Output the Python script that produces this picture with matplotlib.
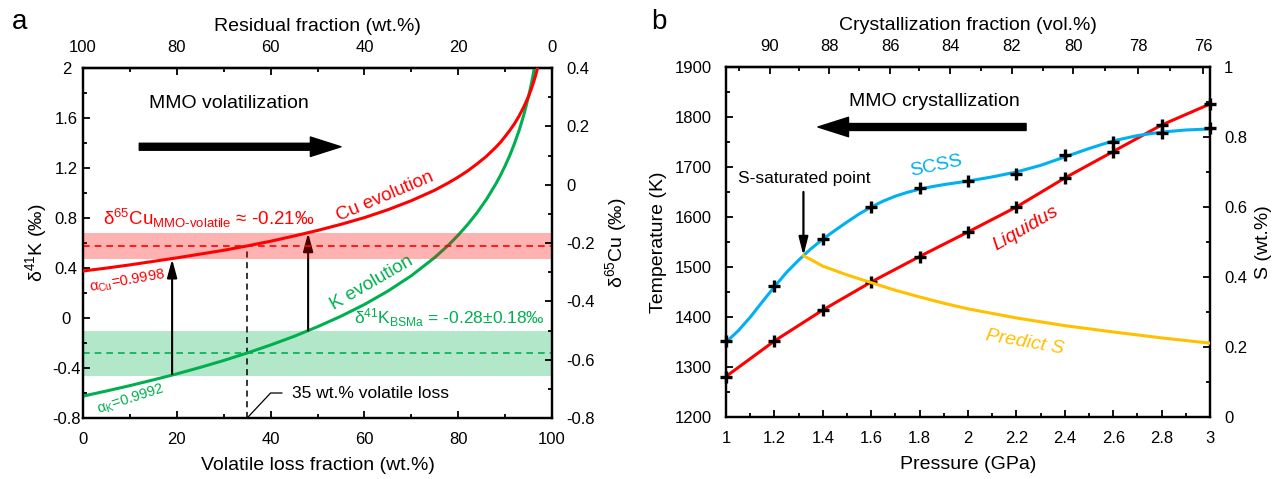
import matplotlib
matplotlib.use("Agg")
import matplotlib.pyplot as plt
from matplotlib.ticker import MultipleLocator, FixedLocator, FuncFormatter

plt.rcParams['font.family'] = ['Liberation Sans', 'DejaVu Sans']
plt.rcParams['mathtext.fontset'] = 'custom'
plt.rcParams['mathtext.rm'] = 'Liberation Sans'
plt.rcParams['mathtext.it'] = 'Liberation Sans:italic'
plt.rcParams['mathtext.default'] = 'regular'
plt.rcParams['axes.unicode_minus'] = False

RED = '#FF0000'
GREEN = '#00B050'
BLUE = '#00B0F0'
ORANGE = '#FFC000'

# ---------- panel a data ----------
loss = [0, 5, 10, 15, 20, 25, 30, 35, 40, 45, 50, 55, 60, 65, 70, 75, 78, 80, 82, 84, 86, 88, 89, 90,
        91, 92, 93, 94, 95, 95.5, 96, 96.5, 97]
k_evol = [-0.625, -0.584, -0.541, -0.495, -0.447, -0.395, -0.340, -0.280, -0.216, -0.147, -0.070, 0.014,
          0.108, 0.215, 0.338, 0.484, 0.586, 0.663, 0.747, 0.841, 0.948, 1.071, 1.141, 1.217,
          1.301, 1.396, 1.502, 1.626, 1.772, 1.856, 1.950, 2.057, 2.180]
cu_evol = [-0.296, -0.286, -0.275, -0.263, -0.251, -0.238, -0.225, -0.210, -0.194, -0.176, -0.157, -0.136,
           -0.113, -0.086, -0.055, -0.019, 0.007, 0.026, 0.047, 0.071, 0.097, 0.128, 0.145, 0.165,
           0.186, 0.209, 0.236, 0.267, 0.303, 0.324, 0.348, 0.374, 0.405]
k_bsma, k_err = -0.28, 0.18
cu_mmo, cu_err = -0.21, 0.045
loss_mark = 35
arrow_x = [19, 48]
arrow_from = [-0.45, -0.10]
arrow_to = [0.47, 0.68]

# ---------- panel b data ----------
p_mark = [1.0, 1.2, 1.4, 1.6, 1.8, 2.0, 2.2, 2.4, 2.6, 2.8, 3.0]
liquidus = [1281, 1352, 1414, 1470, 1521, 1570, 1620, 1678, 1731, 1784, 1826]
scss_mark = [0.216, 0.374, 0.508, 0.600, 0.653, 0.675, 0.694, 0.749, 0.787, 0.811, 0.826]
p_scss = [1.0, 1.05, 1.1, 1.15, 1.2, 1.25, 1.3, 1.32, 1.35, 1.4, 1.45, 1.5, 1.55, 1.6, 1.65, 1.7, 1.75,
          1.8, 1.85, 1.9, 2.0, 2.1, 2.2, 2.3, 2.4, 2.5, 2.6, 2.7, 2.8, 2.9, 3.0]
scss = [0.214, 0.246, 0.285, 0.329, 0.372, 0.413, 0.448, 0.461, 0.480, 0.508, 0.533, 0.557, 0.580, 0.600,
        0.617, 0.631, 0.642, 0.651, 0.658, 0.664, 0.674, 0.686, 0.700, 0.719, 0.743, 0.767, 0.789, 0.804,
        0.814, 0.820, 0.823]
p_pred = [1.32, 1.35, 1.4, 1.5, 1.6, 1.7, 1.8, 1.9, 2.0, 2.2, 2.4, 2.6, 2.8, 3.0]
pred_s = [0.461, 0.450, 0.431, 0.406, 0.384, 0.362, 0.343, 0.325, 0.309, 0.283, 0.261, 0.243, 0.226, 0.211]
cryst_vals = [91, 90, 89, 88, 87, 86, 85, 84, 83, 82, 81, 80, 79, 78, 77, 76]
cryst_pos = [1.055, 1.182, 1.303, 1.427, 1.551, 1.678, 1.799, 1.926, 2.053, 2.181, 2.309, 2.435,
             2.566, 2.704, 2.835, 2.973]
sat_p, sat_s = 1.32, 0.461


def fmt(v, pos=None):
    v = round(v, 3)
    if v == 0:
        v = 0.0
    return f'{v:g}'


def style(ax):
    for s in ax.spines.values():
        s.set_linewidth(1.6)
    ax.tick_params(which='both', direction='in', labelsize=12, width=1.3)
    ax.tick_params(which='major', length=5)
    ax.tick_params(which='minor', length=3)


fig = plt.figure(figsize=(12.85, 4.79), dpi=100)
W, H = 1285, 479

# ================= panel a =================
ax = fig.add_axes([83 / W, 1 - 418 / H, 469 / W, 350 / H])
ax2 = ax.twinx()
ax.set_xlim(0, 100)
ax.set_ylim(-0.8, 2)
ax2.set_ylim(-0.8, 0.4)


def cu_to_k(v):
    return (v + 0.8) * 2.8 / 1.2 - 0.8


ax.axhspan(k_bsma - k_err, k_bsma + k_err, color=GREEN, alpha=0.3, lw=0, zorder=1)
ax.axhline(k_bsma, color=GREEN, lw=1.2, ls=(0, (4, 3)), zorder=2)
ax.plot(loss, k_evol, color=GREEN, lw=2.2, zorder=3, solid_joinstyle='round')
ax.plot([loss_mark, loss_mark], [-0.8, cu_to_k(cu_mmo)], color='k', lw=1.1, ls=(0, (4, 3)), zorder=2)
for x, y0, y1 in zip(arrow_x, arrow_from, arrow_to):
    ax.annotate('', xy=(x, y1), xytext=(x, y0),
                arrowprops=dict(arrowstyle='-|>,head_length=1.1,head_width=0.3', color='k', lw=1.5,
                                shrinkA=0, shrinkB=0), zorder=4)

ax2.axhspan(cu_mmo - cu_err, cu_mmo + cu_err, color=RED, alpha=0.3, lw=0, zorder=1)
ax2.axhline(cu_mmo, color=RED, lw=1.2, ls=(0, (4, 3)), zorder=2)
ax2.plot(loss, cu_evol, color=RED, lw=2.2, zorder=3, solid_joinstyle='round')

# volatilization arrow
ax.annotate('', xy=(55, 1.37), xytext=(12, 1.37),
            arrowprops=dict(width=5, headwidth=14, headlength=22, color='k', shrink=0))
ax.text(14, 1.72, 'MMO volatilization', fontsize=14, va='center')
ax.text(64.5, 0.97, 'Cu evolution', color=RED, fontsize=13.5, rotation=23,
        ha='center', va='center', rotation_mode='anchor')
ax.text(4.3, 0.80, r'δ$^{65}$Cu$_{\text{MMO-volatile}}$ ≈ -0.21‰', color=RED, fontsize=13.5, va='center')
ax.text(9.5, 0.29, r'α$_{Cu}$=0.9998', color=RED, fontsize=10.5, rotation=10,
        ha='center', va='center', rotation_mode='anchor')
ax.text(61.5, 0.28, 'K evolution', color=GREEN, fontsize=13.5, rotation=30,
        ha='center', va='center', rotation_mode='anchor')
ax.text(98.5, 0.0, r'δ$^{41}$K$_{BSMa}$ = -0.28±0.18‰', color=GREEN, fontsize=12.5, ha='right', va='center')
ax.text(10.2, -0.65, r'α$_{K}$=0.9992', color=GREEN, fontsize=10.5, rotation=18,
        ha='center', va='center', rotation_mode='anchor')
ax.plot([loss_mark, 40, 42.4], [-0.8, -0.6, -0.6], color='k', lw=0.9, clip_on=False)
ax.text(44.6, -0.6, '35 wt.% volatile loss', fontsize=12.5, va='center')

ax.xaxis.set_major_locator(MultipleLocator(20))
ax.xaxis.set_minor_locator(MultipleLocator(10))
ax.yaxis.set_major_locator(MultipleLocator(0.4))
ax.yaxis.set_minor_locator(MultipleLocator(0.2))
ax.yaxis.set_major_formatter(FuncFormatter(fmt))
ax2.yaxis.set_major_locator(MultipleLocator(0.2))
ax2.yaxis.set_minor_locator(MultipleLocator(0.1))
ax2.yaxis.set_major_formatter(FuncFormatter(fmt))
style(ax)
style(ax2)
ax.tick_params(axis='x', pad=10)
ax.tick_params(axis='y', pad=12)
ax2.tick_params(axis='y', pad=10)

top = ax.secondary_xaxis('top', functions=(lambda x: 100 - x, lambda x: 100 - x))
top.xaxis.set_major_locator(MultipleLocator(20))
top.xaxis.set_minor_locator(MultipleLocator(10))
style(top)
top.tick_params(axis='x', pad=9)
top.set_xlabel('Residual fraction (wt.%)', fontsize=14, labelpad=7)

ax.set_xlabel('Volatile loss fraction (wt.%)', fontsize=14, labelpad=7)
ax.set_ylabel(r'δ$^{41}$K (‰)', fontsize=14, labelpad=2)
ax2.set_ylabel(r'δ$^{65}$Cu (‰)', fontsize=14, labelpad=6)
fig.text(12 / W, 1 - 22 / H, 'a', fontsize=20, va='center')

# ================= panel b =================
bx = fig.add_axes([726 / W, 1 - 417 / H, 484 / W, 350 / H])
bx2 = bx.twinx()
bx.set_xlim(1, 3)
bx.set_ylim(1200, 1900)
bx2.set_ylim(0, 1)

bx.plot(p_mark, liquidus, color=RED, lw=2.2, zorder=3, solid_joinstyle='round')
bx.plot(p_mark, liquidus, ls='none', marker='+', ms=8, mew=2.4, color='k', zorder=4, clip_on=False)
bx2.plot(p_scss, scss, color=BLUE, lw=2.2, zorder=3, solid_joinstyle='round')
bx2.plot(p_pred, pred_s, color=ORANGE, lw=2.2, zorder=3, solid_joinstyle='round')
bx2.plot(p_mark, scss_mark, ls='none', marker='+', ms=8, mew=2.4, color='k', zorder=4, clip_on=False)

bx2.annotate('', xy=(sat_p, sat_s), xytext=(sat_p, 0.643),
             arrowprops=dict(arrowstyle='-|>,head_length=1.1,head_width=0.28', color='k', lw=1.6,
                             shrinkA=0, shrinkB=0))
bx.text(1.05, 1676, 'S-saturated point', fontsize=12.5, va='center')
bx.annotate('', xy=(1.38, 1780), xytext=(2.24, 1780),
            arrowprops=dict(width=5, headwidth=14, headlength=22, color='k', shrink=0))
bx.text(1.86, 1830, 'MMO crystallization', fontsize=14, ha='center', va='center')
bx.text(1.87, 1702, 'SCSS', color=BLUE, fontsize=14, rotation=12,
        ha='center', va='center', rotation_mode='anchor')
bx.text(2.24, 1577, 'Liquidus', color=RED, fontsize=14, rotation=30,
        ha='center', va='center', rotation_mode='anchor', style='italic')
bx.text(2.235, 1349, 'Predict S', color=ORANGE, fontsize=14, rotation=-10,
        ha='center', va='center', rotation_mode='anchor', style='italic')

bx.xaxis.set_major_locator(MultipleLocator(0.2))
bx.xaxis.set_minor_locator(MultipleLocator(0.1))
bx.xaxis.set_major_formatter(FuncFormatter(fmt))
bx.yaxis.set_major_locator(MultipleLocator(100))
bx.yaxis.set_minor_locator(MultipleLocator(50))
bx2.yaxis.set_major_locator(MultipleLocator(0.2))
bx2.yaxis.set_minor_locator(MultipleLocator(0.1))
bx2.yaxis.set_major_formatter(FuncFormatter(fmt))
style(bx)
style(bx2)
bx.tick_params(axis='x', pad=10)
bx.tick_params(axis='y', pad=10)
bx2.tick_params(axis='y', pad=10)

btop = bx.secondary_xaxis('top')
major_pos = [p for p, v in zip(cryst_pos, cryst_vals) if v % 2 == 0]
major_lab = [str(v) for v in cryst_vals if v % 2 == 0]
minor_pos = [p for p, v in zip(cryst_pos, cryst_vals) if v % 2 == 1]
btop.xaxis.set_major_locator(FixedLocator(major_pos))
btop.set_xticklabels(major_lab)
btop.xaxis.set_minor_locator(FixedLocator(minor_pos))
style(btop)
btop.tick_params(axis='x', pad=9)
btop.set_xlabel('Crystallization fraction (vol.%)', fontsize=14, labelpad=7)

bx.set_xlabel('Pressure (GPa)', fontsize=14, labelpad=7)
bx.set_ylabel('Temperature (K)', fontsize=14, labelpad=6)
bx2.set_ylabel('S (wt.%)', fontsize=14, labelpad=6)
fig.text(651 / W, 1 - 22 / H, 'b', fontsize=20, va='center')

fig.canvas.draw()
for lab in ax.get_yticklabels():
    lab.set_horizontalalignment('center')

fig.savefig('out.png', dpi=100)
